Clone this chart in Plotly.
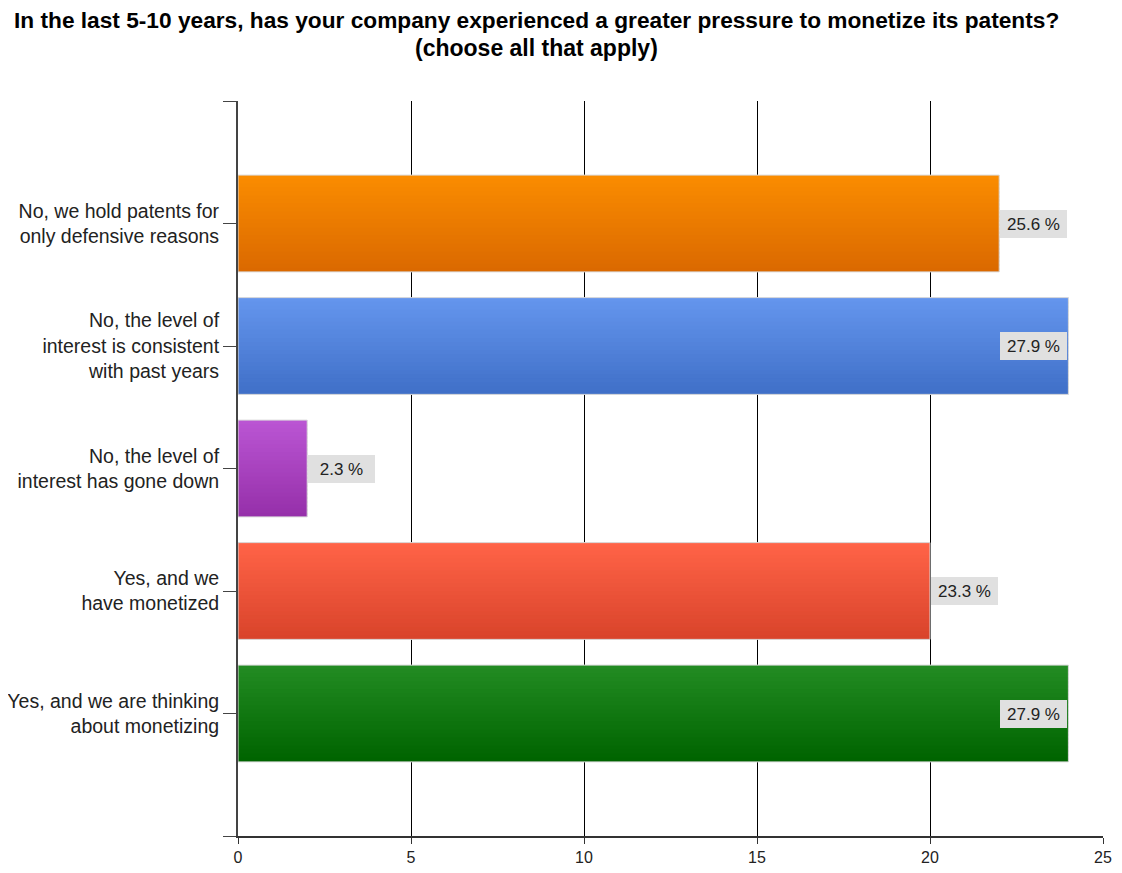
import plotly.graph_objects as go

title_lines = [
    "In the last 5-10 years, has your company experienced a greater pressure to monetize its patents?",
    "(choose all that apply)",
]
categories = [
    "No, we hold patents for<br>only defensive reasons",
    "No, the level of<br>interest is consistent<br>with past years",
    "No, the level of<br>interest has gone down",
    "Yes, and we<br>have monetized",
    "Yes, and we are thinking<br>about monetizing",
]
counts = [22, 24, 2, 20, 24]
percents = [25.6, 27.9, 2.3, 23.3, 27.9]
x_ticks = [0, 5, 10, 15, 20, 25]

top_colors = [(250, 140, 0), (100, 149, 237), (186, 85, 211), (255, 99, 71), (34, 139, 34)]
bottom_colors = [(219, 105, 0), (64, 112, 200), (150, 48, 170), (217, 68, 43), (0, 100, 0)]

BAR_W = 0.79
N = 24
step = BAR_W / N
idx = list(range(len(categories)))


def mix(a, b, t):
    return "rgb(%d,%d,%d)" % tuple(round(a[i] + (b[i] - a[i]) * t) for i in range(3))


fig = go.Figure()
for k in range(N):
    t = k / (N - 1)
    off = -BAR_W / 2 + k * step
    w = min(step * 1.6, BAR_W / 2 - off)
    fig.add_trace(go.Bar(
        y=idx, x=counts, orientation="h", width=w, offset=off,
        marker=dict(color=[mix(top_colors[i], bottom_colors[i], t) for i in idx], line=dict(width=0)),
        showlegend=False, hoverinfo="skip",
    ))
fig.add_trace(go.Bar(
    y=idx, x=counts, orientation="h", width=BAR_W, offset=-BAR_W / 2,
    marker=dict(color="rgba(0,0,0,0)", line=dict(color="#d9d9d9", width=1)),
    showlegend=False, hovertemplate="%{x}<extra></extra>",
))

LABEL_UNITS = 2.0
for i in idx:
    inside = counts[i] + LABEL_UNITS > x_ticks[-1]
    fig.add_annotation(
        x=counts[i], y=i, xref="x", yref="y",
        text="%.1f %%" % percents[i],
        showarrow=False,
        xanchor="right" if inside else "left",
        xshift=-1 if inside else 1,
        yanchor="middle",
        width=59, height=20, align="center",
        bgcolor="#e0e0e0", borderpad=4, borderwidth=0,
        font=dict(family="Liberation Sans", size=17, color="#222222"),
    )

# title (two centred lines)
for line, ys, fs in zip(title_lines, [81, 53], [22.7, 23]):
    fig.add_annotation(
        x=0.345, y=1, xref="paper", yref="paper", yshift=ys,
        text="<b>%s</b>" % line, showarrow=False,
        xanchor="center", yanchor="middle",
        borderpad=0, borderwidth=0,
        font=dict(family="Liberation Sans", size=fs, color="#000000"),
    )

fig.update_layout(
    width=1106, height=857,
    margin=dict(l=230, r=11, t=93, b=29, autoexpand=False),
    paper_bgcolor="white", plot_bgcolor="white",
    barmode="overlay",
    font=dict(family="Liberation Sans", size=16, color="#222222"),
    xaxis=dict(
        range=[0, 25], tickvals=x_ticks, ticktext=[str(v) for v in x_ticks],
        showgrid=True, gridcolor="#000000", gridwidth=1,
        showline=True, linecolor="#333333", linewidth=2,
        ticks="outside", ticklen=6, tickcolor="#333333",
        zeroline=False, automargin=False,
        tickfont=dict(size=16, color="#222222"),
    ),
    yaxis=dict(
        range=[5, -1], tickvals=[-1] + idx + [5], ticktext=[""] + categories + [""],
        showgrid=False, zeroline=False, automargin=False,
        showline=True, linecolor="#444444", linewidth=2,
        ticks="outside", ticklen=13, tickcolor="#444444",
        ticklabelstandoff=0,
        tickfont=dict(size=19.5, color="#222222"),
    ),
)

fig.write_html("out.html")
